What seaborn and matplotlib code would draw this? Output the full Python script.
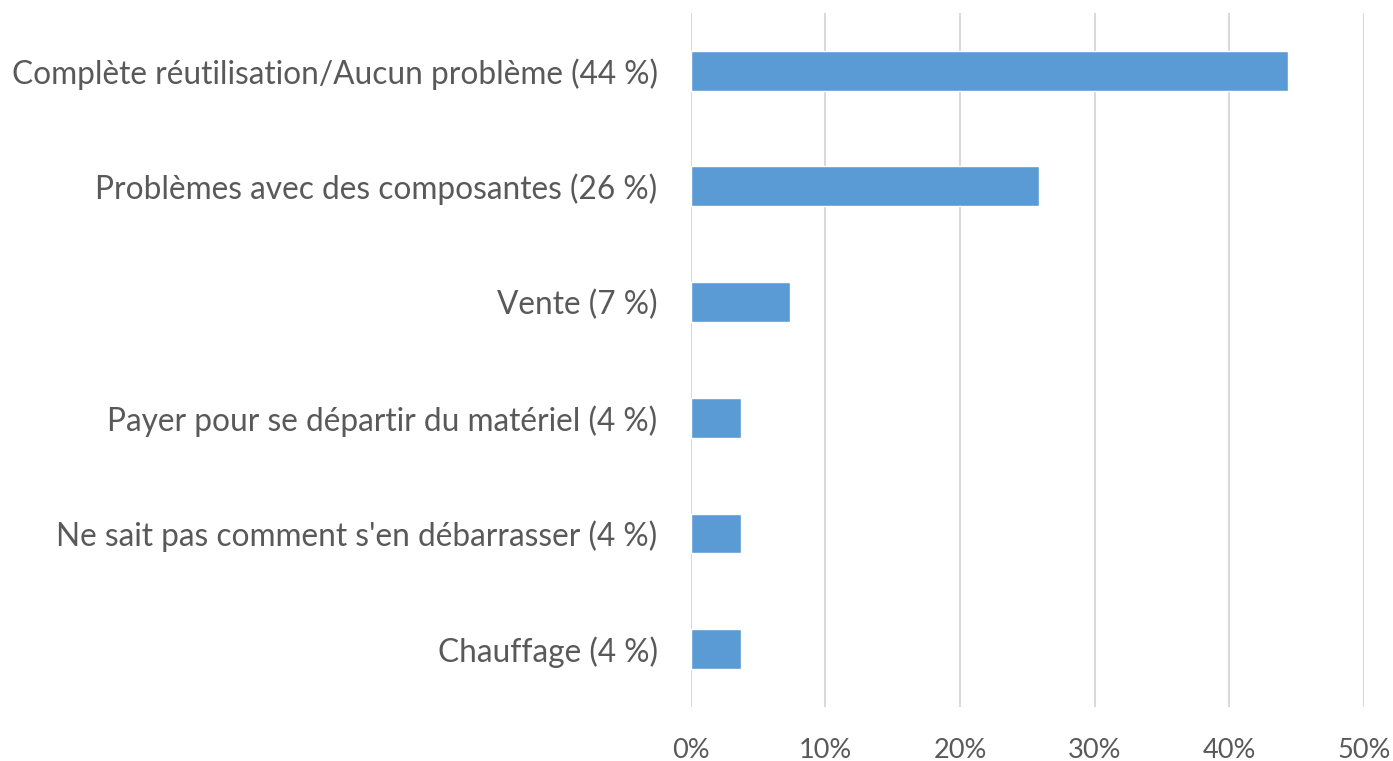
import numpy as np
import pandas as pd
import matplotlib
matplotlib.use("Agg")
import matplotlib.pyplot as plt
import seaborn as sns
from matplotlib.ticker import PercentFormatter

# 数据
categories = [
    "Complète réutilisation/Aucun problème (44 %)",
    "Problèmes avec des composantes (26 %)",
    "Vente (7 %)",
    "Payer pour se départir du matériel (4 %)",
    "Ne sait pas comment s'en débarrasser (4 %)",
    "Chauffage (4 %)",
]
values = [44.4, 25.9, 7.35, 3.7, 3.7, 3.7]

df = pd.DataFrame({"cat": categories, "val": values})

sns.set_style("white")
plt.rcParams['font.family'] = ['Lato', 'DejaVu Sans']

fig = plt.figure(figsize=(13.93, 7.61), dpi=100)
ax = fig.add_axes([0.496, 0.071, 0.483, 0.912])

sns.barplot(data=df, x="val", y="cat", color="#5B9BD5", width=0.345,
            saturation=1, ax=ax, zorder=3)

ax.set_xlim(0, 50)
ax.set_xticks(np.arange(0, 51, 10))
ax.xaxis.set_major_formatter(PercentFormatter(decimals=0))
ax.grid(axis="x", color="#D9D9D9", linewidth=1.5, zorder=0)
ax.set_axisbelow(True)
for s in ax.spines.values():
    s.set_visible(False)

ax.set_xlabel("")
ax.set_ylabel("")
ax.tick_params(axis="y", length=0, pad=24, labelsize=22.8, labelcolor="#595959")
ax.tick_params(axis="x", length=0, pad=22, labelsize=19.5, labelcolor="#595959")

plt.savefig("out.png", dpi=100)
